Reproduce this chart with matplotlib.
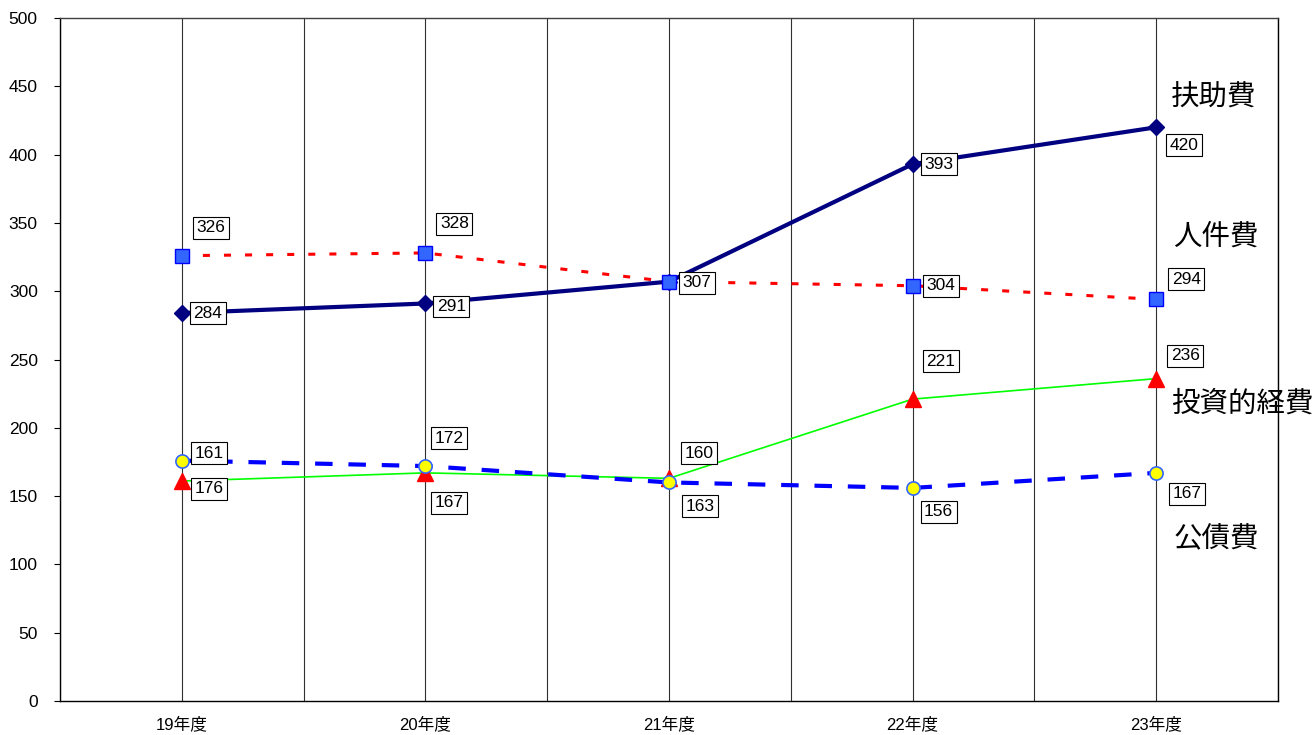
import matplotlib
matplotlib.use("Agg")
import matplotlib.pyplot as plt

plt.rcParams['font.family'] = ['Liberation Sans', 'Noto Sans CJK JP', 'DejaVu Sans']

# Data
years = ['19年度', '20年度', '21年度', '22年度', '23年度']
fujo = [284, 291, 307, 393, 420]      # 扶助費
jinken = [326, 328, 307, 304, 294]    # 人件費
toshi = [161, 167, 163, 221, 236]     # 投資的経費
kosai = [176, 172, 160, 156, 167]     # 公債費
y_ticks = list(range(0, 501, 50))

# Label offsets in pixels (dx right, dy down); None hides a label
off_fujo = [(26, 0), (26, 3), (28, 1), (26, 0), (28, 18)]
off_jinken = [(29, -28), (29, -29), None, (28, 0), (30, -20)]
off_toshi = [(27, -28), (24, 30), (31, 28), (28, -38), (29, -23)]
off_kosai = [(27, 28), (24, -28), (30, -29), (26, 24), (31, 21)]

W, H = 1315, 735
fig = plt.figure(figsize=(W / 100, H / 100), dpi=100)
ax = fig.add_axes([60 / W, 34 / H, 1218 / W, 683 / H])

x = list(range(len(years)))
ax.set_xlim(-0.5, len(years) - 0.5)
ax.set_ylim(0, 500)

# vertical grid lines at categories and category boundaries
for xv in [i * 0.5 - 0.5 for i in range(2 * len(years) + 1)]:
    ax.axvline(xv, color='#303030', lw=0.8, zorder=1)

l1, = ax.plot(x, fujo, color='#000080', lw=3.0, marker='D', ms=8.5,
              mfc='#000080', mec='#000080', zorder=3)
l2, = ax.plot(x, jinken, color='#FF0000', lw=2.2, marker='s', ms=9.5,
              mfc='#3366FF', mec='#0000FF', mew=1.0, zorder=4)
l2.set_dashes((2.3, 4.6))
l3, = ax.plot(x, toshi, color='#00FF00', lw=1.2, marker='^', ms=12,
              mfc='#FF0000', mec='#FF0000', zorder=5)
l4, = ax.plot(x, kosai, color='#0000FF', lw=3.0, marker='o', ms=9.5,
              mfc='#FFFF00', mec='#3366FF', mew=1.2, zorder=6)
l4.set_dashes((4.2, 3.8))

box = dict(boxstyle='square,pad=0.2', fc='white', ec='black', lw=0.8)
for vals, offs in [(fujo, off_fujo), (jinken, off_jinken),
                   (toshi, off_toshi), (kosai, off_kosai)]:
    for xi, v, off in zip(x, vals, offs):
        if off is None:
            continue
        ax.annotate(f'{v}', (xi, v), xytext=(off[0], -off[1]),
                    textcoords='offset pixels', ha='center', va='center',
                    fontsize=12.5, bbox=box, zorder=10)

# series names on the right
names = [('扶助費', 4.237, 441.4), ('人件費', 4.245, 339.7),
         ('投資的経費', 4.352, 217.4), ('公債費', 4.245, 118.6)]
for txt, tx, ty in names:
    ax.text(tx, ty, txt, fontsize=20.5, ha='center', va='center',
            family=['Noto Sans CJK JP'], clip_on=False, zorder=10)

ax.set_xticks(x)
ax.set_xticklabels(years, fontsize=12)
ax.set_yticks(y_ticks)
ax.set_yticklabels([str(v) for v in y_ticks], fontsize=12.5)
ax.tick_params(axis='x', length=0, pad=11)
ax.tick_params(axis='y', length=4, width=0.8, direction='out', pad=12)

for s in ax.spines.values():
    s.set_color('black')
    s.set_linewidth(1.0)
ax.spines['top'].set_color('#404040')

fig.savefig('out.png', dpi=100)
